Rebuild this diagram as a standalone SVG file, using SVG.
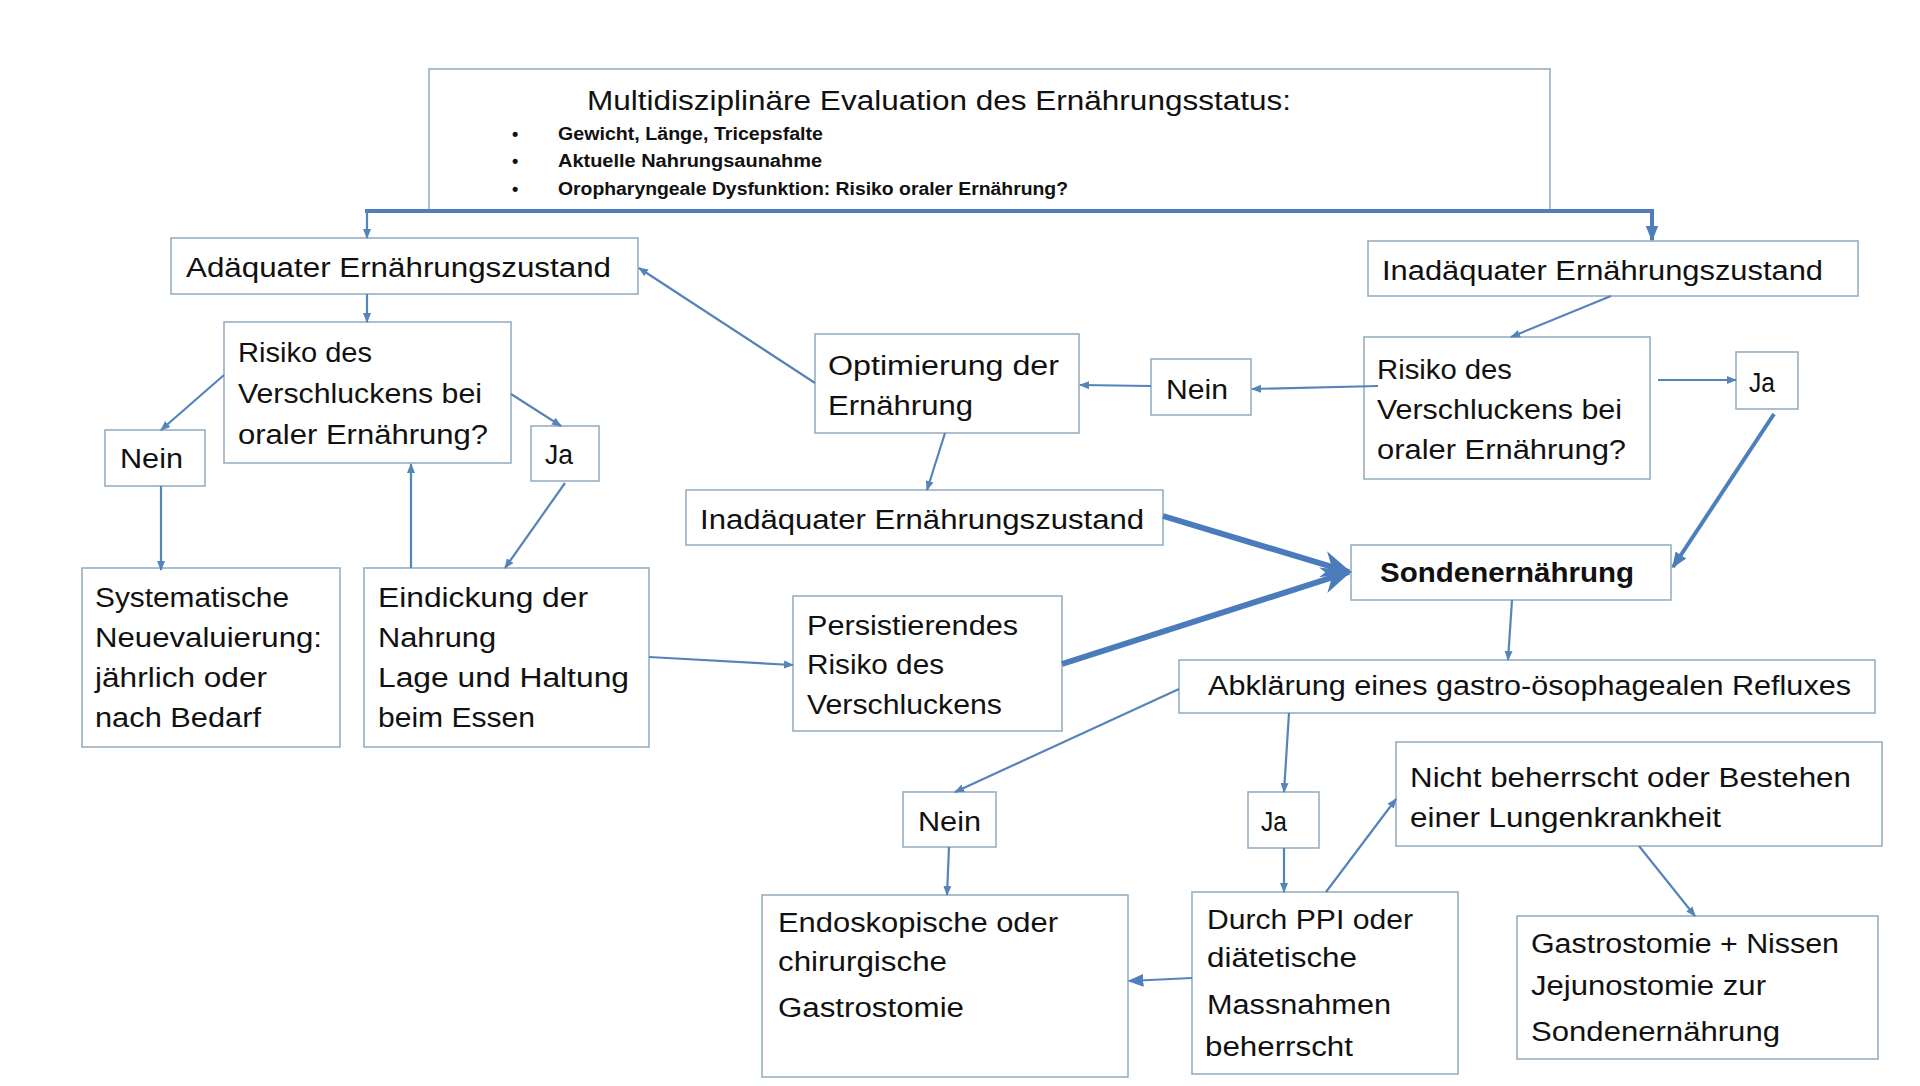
<svg xmlns="http://www.w3.org/2000/svg" width="1920" height="1086" viewBox="0 0 1920 1086">
<defs>
<style>
.box{fill:#ffffff;stroke:#97afc2;stroke-width:1.6}
.t{font-family:"Liberation Sans",Arial,sans-serif;font-size:27px;fill:#111111}
.b{font-weight:bold}
.s{font-size:18px;font-weight:bold}
.c{fill:none;stroke:#5584bb;stroke-width:2.2}
.ck{fill:none;stroke:#4f7fbb;stroke-width:4}
.cx{fill:none;stroke:#4a7cbb;stroke-width:6}
</style>
<marker id="ah" viewBox="0 0 10 10" refX="9" refY="5" markerWidth="10" markerHeight="10" markerUnits="userSpaceOnUse" orient="auto"><path d="M0,1 L10,5 L0,9 z" fill="#5584bb"/></marker>
<marker id="ahm" viewBox="0 0 10 10" refX="9" refY="5" markerWidth="16" markerHeight="16" markerUnits="userSpaceOnUse" orient="auto"><path d="M0,1 L10,5 L0,9 z" fill="#4f7fbb"/></marker>
<marker id="ahl" viewBox="0 0 10 10" refX="9" refY="5" markerWidth="30" markerHeight="30" markerUnits="userSpaceOnUse" orient="auto"><path d="M0,0.5 L10,5 L0,9.5 L3,5 z" fill="#4a7cbb"/></marker>
</defs>
<rect width="1920" height="1086" fill="#ffffff"/>

<g id="top">
<rect class="box" x="429" y="69" width="1121" height="142"/>
<text class="t" x="587" y="110" font-size="29" textLength="704" lengthAdjust="spacingAndGlyphs">Multidisziplinäre Evaluation des Ernährungsstatus:</text>
<text class="t s" x="512" y="140">•</text>
<text class="t s" x="512" y="167">•</text>
<text class="t s" x="512" y="195">•</text>
<text class="t s" x="558" y="140" textLength="265" lengthAdjust="spacingAndGlyphs">Gewicht, Länge, Tricepsfalte</text>
<text class="t s" x="558" y="167" textLength="264" lengthAdjust="spacingAndGlyphs">Aktuelle Nahrungsaunahme</text>
<text class="t s" x="558" y="195" textLength="510" lengthAdjust="spacingAndGlyphs">Oropharyngeale Dysfunktion: Risiko oraler Ernährung?</text>
</g>

<g id="adequate">
<rect class="box" x="171" y="238" width="467" height="56"/>
<text class="t" x="186" y="277" textLength="425" lengthAdjust="spacingAndGlyphs">Adäquater Ernährungszustand</text>
</g>

<g id="inadequate-top">
<rect class="box" x="1368" y="241" width="490" height="55"/>
<text class="t" x="1382" y="280" textLength="441" lengthAdjust="spacingAndGlyphs">Inadäquater Ernährungszustand</text>
</g>

<g id="risk-left">
<rect class="box" x="224" y="322" width="287" height="141"/>
<text class="t" x="238" y="362" textLength="134" lengthAdjust="spacingAndGlyphs">Risiko des</text>
<text class="t" x="238" y="403" textLength="244" lengthAdjust="spacingAndGlyphs">Verschluckens bei</text>
<text class="t" x="238" y="444" textLength="250" lengthAdjust="spacingAndGlyphs">oraler Ernährung?</text>
</g>

<g id="nein-left">
<rect class="box" x="105" y="430" width="100" height="56"/>
<text class="t" x="120" y="468" textLength="63" lengthAdjust="spacingAndGlyphs">Nein</text>
</g>

<g id="ja-left">
<rect class="box" x="531" y="426" width="68" height="55"/>
<text class="t" x="545" y="464" textLength="28" lengthAdjust="spacingAndGlyphs">Ja</text>
</g>

<g id="systematische">
<rect class="box" x="82" y="568" width="258" height="179"/>
<text class="t" x="95" y="607" textLength="194" lengthAdjust="spacingAndGlyphs">Systematische</text>
<text class="t" x="95" y="647" textLength="227" lengthAdjust="spacingAndGlyphs">Neuevaluierung:</text>
<text class="t" x="95" y="687" textLength="172" lengthAdjust="spacingAndGlyphs">jährlich oder</text>
<text class="t" x="95" y="727" textLength="166" lengthAdjust="spacingAndGlyphs">nach Bedarf</text>
</g>

<g id="eindickung">
<rect class="box" x="364" y="568" width="285" height="179"/>
<text class="t" x="378" y="607" textLength="210" lengthAdjust="spacingAndGlyphs">Eindickung der</text>
<text class="t" x="378" y="647" textLength="118" lengthAdjust="spacingAndGlyphs">Nahrung</text>
<text class="t" x="378" y="687" textLength="251" lengthAdjust="spacingAndGlyphs">Lage und Haltung</text>
<text class="t" x="378" y="727" textLength="157" lengthAdjust="spacingAndGlyphs">beim Essen</text>
</g>

<g id="optimierung">
<rect class="box" x="815" y="334" width="264" height="99"/>
<text class="t" x="828" y="375" textLength="231" lengthAdjust="spacingAndGlyphs">Optimierung der</text>
<text class="t" x="828" y="415" textLength="145" lengthAdjust="spacingAndGlyphs">Ernährung</text>
</g>

<g id="nein-mid">
<rect class="box" x="1151" y="359" width="100" height="56"/>
<text class="t" x="1166" y="399" textLength="62" lengthAdjust="spacingAndGlyphs">Nein</text>
</g>

<g id="risk-right">
<rect class="box" x="1364" y="337" width="286" height="142"/>
<text class="t" x="1377" y="379" textLength="135" lengthAdjust="spacingAndGlyphs">Risiko des</text>
<text class="t" x="1377" y="419" textLength="245" lengthAdjust="spacingAndGlyphs">Verschluckens bei</text>
<text class="t" x="1377" y="459" textLength="249" lengthAdjust="spacingAndGlyphs">oraler Ernährung?</text>
</g>

<g id="ja-right">
<rect class="box" x="1736" y="352" width="62" height="57"/>
<text class="t" x="1749" y="392" textLength="26" lengthAdjust="spacingAndGlyphs">Ja</text>
</g>

<g id="inadequate-mid">
<rect class="box" x="686" y="490" width="477" height="55"/>
<text class="t" x="700" y="529" textLength="444" lengthAdjust="spacingAndGlyphs">Inadäquater Ernährungszustand</text>
</g>

<g id="sonden">
<rect class="box" x="1351" y="545" width="320" height="55"/>
<text class="t b" x="1380" y="582" textLength="254" lengthAdjust="spacingAndGlyphs">Sondenernährung</text>
</g>

<g id="persist">
<rect class="box" x="793" y="596" width="269" height="135"/>
<text class="t" x="807" y="635" textLength="211" lengthAdjust="spacingAndGlyphs">Persistierendes</text>
<text class="t" x="807" y="674" textLength="137" lengthAdjust="spacingAndGlyphs">Risiko des</text>
<text class="t" x="807" y="714" textLength="195" lengthAdjust="spacingAndGlyphs">Verschluckens</text>
</g>

<g id="abklaerung">
<rect class="box" x="1179" y="660" width="696" height="53"/>
<text class="t" x="1208" y="695" textLength="643" lengthAdjust="spacingAndGlyphs">Abklärung eines gastro-ösophagealen Refluxes</text>
</g>

<g id="nein-lower">
<rect class="box" x="903" y="792" width="93" height="55"/>
<text class="t" x="918" y="831" textLength="63" lengthAdjust="spacingAndGlyphs">Nein</text>
</g>

<g id="ja-lower">
<rect class="box" x="1248" y="792" width="71" height="56"/>
<text class="t" x="1261" y="831" textLength="26" lengthAdjust="spacingAndGlyphs">Ja</text>
</g>

<g id="endoskopisch">
<rect class="box" x="762" y="895" width="366" height="182"/>
<text class="t" x="778" y="932" textLength="280" lengthAdjust="spacingAndGlyphs">Endoskopische oder</text>
<text class="t" x="778" y="971" textLength="169" lengthAdjust="spacingAndGlyphs">chirurgische</text>
<text class="t" x="778" y="1017" textLength="186" lengthAdjust="spacingAndGlyphs">Gastrostomie</text>
</g>

<g id="durch">
<rect class="box" x="1192" y="892" width="266" height="182"/>
<text class="t" x="1207" y="929" textLength="206" lengthAdjust="spacingAndGlyphs">Durch PPI oder</text>
<text class="t" x="1207" y="967" textLength="150" lengthAdjust="spacingAndGlyphs">diätetische</text>
<text class="t" x="1207" y="1014" textLength="184" lengthAdjust="spacingAndGlyphs">Massnahmen</text>
<text class="t" x="1205" y="1056" textLength="148" lengthAdjust="spacingAndGlyphs">beherrscht</text>
</g>

<g id="nicht">
<rect class="box" x="1396" y="742" width="486" height="104"/>
<text class="t" x="1410" y="787" font-size="30" textLength="441" lengthAdjust="spacingAndGlyphs">Nicht beherrscht oder Bestehen</text>
<text class="t" x="1410" y="827" textLength="311" lengthAdjust="spacingAndGlyphs">einer Lungenkrankheit</text>
</g>

<g id="gastro-nissen">
<rect class="box" x="1517" y="916" width="361" height="143"/>
<text class="t" x="1531" y="953" font-size="26" textLength="308" lengthAdjust="spacingAndGlyphs">Gastrostomie + Nissen</text>
<text class="t" x="1531" y="995" font-size="30" textLength="235" lengthAdjust="spacingAndGlyphs">Jejunostomie zur</text>
<text class="t" x="1531" y="1041" font-size="29" textLength="249" lengthAdjust="spacingAndGlyphs">Sondenernährung</text>
</g>

<g id="connectors">
<path class="ck" d="M365,211 L1654,211"/>
<path class="c" d="M367,211 L367,238" marker-end="url(#ah)"/>
<path class="ck" d="M1652,211 L1652,240" marker-end="url(#ahm)"/>
<path class="c" d="M367,294 L367,322" marker-end="url(#ah)"/>
<path class="c" d="M224,375 L161,430" marker-end="url(#ah)"/>
<path class="c" d="M511,394 L561,426" marker-end="url(#ah)"/>
<path class="c" d="M161,486 L161,570" marker-end="url(#ah)"/>
<path class="c" d="M565,483 L505,568" marker-end="url(#ah)"/>
<path class="c" d="M411,568 L411,464" marker-end="url(#ah)"/>
<path class="c" d="M649,657 L793,665" marker-end="url(#ah)"/>
<path class="c" d="M815,383 L639,268" marker-end="url(#ah)"/>
<path class="c" d="M1611,296 L1511,337" marker-end="url(#ah)"/>
<path class="c" d="M1378,386 L1252,389" marker-end="url(#ah)"/>
<path class="c" d="M1151,386 L1080,385" marker-end="url(#ah)"/>
<path class="c" d="M1658,380 L1736,380" marker-end="url(#ah)"/>
<path class="ck" d="M1774,414 L1673,567" marker-end="url(#ahm)"/>
<path class="c" d="M945,433 L927,490" marker-end="url(#ah)"/>
<path class="cx" d="M1163,516 L1349,572" marker-end="url(#ahl)"/>
<path class="cx" d="M1062,664 L1349,572" marker-end="url(#ahl)"/>
<path class="c" d="M1512,600 L1508,660" marker-end="url(#ah)"/>
<path class="c" d="M1179,689 L955,792" marker-end="url(#ah)"/>
<path class="c" d="M1289,713 L1284,792" marker-end="url(#ah)"/>
<path class="c" d="M949,847 L947,895" marker-end="url(#ah)"/>
<path class="c" d="M1284,848 L1284,892" marker-end="url(#ah)"/>
<path class="c" d="M1192,978 L1129,981" marker-end="url(#ahm)"/>
<path class="c" d="M1326,892 L1396,799" marker-end="url(#ah)"/>
<path class="c" d="M1639,846 L1695,916" marker-end="url(#ah)"/>
</g>
</svg>
